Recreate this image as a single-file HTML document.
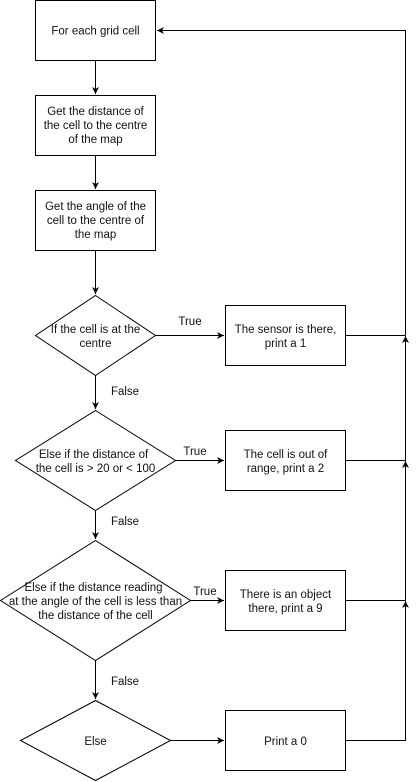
<!DOCTYPE html>
<html><head><style>
html,body{margin:0;padding:0;background:#fff;}
svg{display:block;}
text{font-family:"Liberation Sans",Arial,sans-serif;font-size:11.5px;fill:#111;}
</style></head><body>
<svg width="417" height="782" viewBox="0 0 417 782" xmlns="http://www.w3.org/2000/svg">
<defs>
<marker id="a" markerWidth="8" markerHeight="8" refX="7" refY="4" orient="auto" markerUnits="userSpaceOnUse">
<path d="M0,0.5 L7,4 L0,7.5 L2,4 Z" fill="#000"/>
</marker>
</defs>
<g fill="#fff" stroke="#000" stroke-width="1">
<rect x="35.5" y="0.5" width="120" height="60"/>
<rect x="35.5" y="95.5" width="120" height="60"/>
<rect x="35.5" y="190.5" width="120" height="60"/>
<polygon points="95.5,295.5 155.5,335.5 95.5,375.5 35.5,335.5"/>
<rect x="225.5" y="305.5" width="120" height="60"/>
<polygon points="95.5,410.5 175.5,460.5 95.5,510.5 15.5,460.5"/>
<rect x="225.5" y="430.5" width="120" height="60"/>
<polygon points="95.5,540.5 190.5,600.5 95.5,660.5 0.5,600.5"/>
<rect x="225.5" y="570.5" width="120" height="60"/>
<polygon points="95.5,700.5 170.5,740.5 95.5,780.5 20.5,740.5"/>
<rect x="225.5" y="710.5" width="120" height="60"/>
</g>
<g stroke="#000" stroke-width="1" fill="none">
<line x1="95.5" y1="60.5" x2="95.5" y2="94" marker-end="url(#a)"/>
<line x1="95.5" y1="155.5" x2="95.5" y2="189" marker-end="url(#a)"/>
<line x1="95.5" y1="250.5" x2="95.5" y2="294" marker-end="url(#a)"/>
<line x1="95.5" y1="375.5" x2="95.5" y2="409" marker-end="url(#a)"/>
<line x1="95.5" y1="510.5" x2="95.5" y2="539" marker-end="url(#a)"/>
<line x1="95.5" y1="660.5" x2="95.5" y2="699" marker-end="url(#a)"/>
<line x1="155.5" y1="335.5" x2="224" y2="335.5" marker-end="url(#a)"/>
<line x1="175.5" y1="460.5" x2="224" y2="460.5" marker-end="url(#a)"/>
<line x1="190.5" y1="600.5" x2="224" y2="600.5" marker-end="url(#a)"/>
<line x1="170.5" y1="740.5" x2="224" y2="740.5" marker-end="url(#a)"/>
<line x1="345.5" y1="335.5" x2="405.5" y2="335.5"/>
<line x1="345.5" y1="460.5" x2="405.5" y2="460.5"/>
<line x1="345.5" y1="600.5" x2="405.5" y2="600.5"/>
<polyline points="345.5,740.5 405.5,740.5 405.5,601" />
<line x1="405.5" y1="740.5" x2="405.5" y2="601" marker-end="url(#a)"/>
<line x1="405.5" y1="600.5" x2="405.5" y2="461" marker-end="url(#a)"/>
<line x1="405.5" y1="460.5" x2="405.5" y2="336" marker-end="url(#a)"/>
<polyline points="405.5,335.5 405.5,30.5 157,30.5" marker-end="url(#a)"/>
</g>
<g text-anchor="middle">
<text x="95.5" y="34.5">For each grid cell</text>
<text x="95.5" y="115">Get the distance of</text>
<text x="95.5" y="129">the cell to the centre</text>
<text x="95.5" y="143">of the map</text>
<text x="95.5" y="210">Get the angle of the</text>
<text x="95.5" y="224">cell to the centre of</text>
<text x="95.5" y="238">the map</text>
<text x="95.5" y="333">If the cell is at the</text>
<text x="95.5" y="347">centre</text>
<text x="285.5" y="333">The sensor is there,</text>
<text x="285.5" y="347">print a 1</text>
<text x="93.5" y="458">Else if the distance of</text>
<text x="95.5" y="472">the cell is &gt; 20 or &lt; 100</text>
<text x="285.5" y="458">The cell is out of</text>
<text x="285.5" y="472">range, print a 2</text>
<text x="93.5" y="591">Else if the distance reading</text>
<text x="95.5" y="605">at the angle of the cell is less than</text>
<text x="95.5" y="619">the distance of the cell</text>
<text x="285.5" y="598">There is an object</text>
<text x="285.5" y="612">there, print a 9</text>
<text x="95.5" y="745">Else</text>
<text x="285.5" y="745">Print a 0</text>
<text x="190" y="325">True</text>
<text x="195" y="455">True</text>
<text x="205" y="595">True</text>
<text x="125" y="395">False</text>
<text x="125" y="525">False</text>
<text x="125" y="685">False</text>
</g>
</svg>
</body></html>
